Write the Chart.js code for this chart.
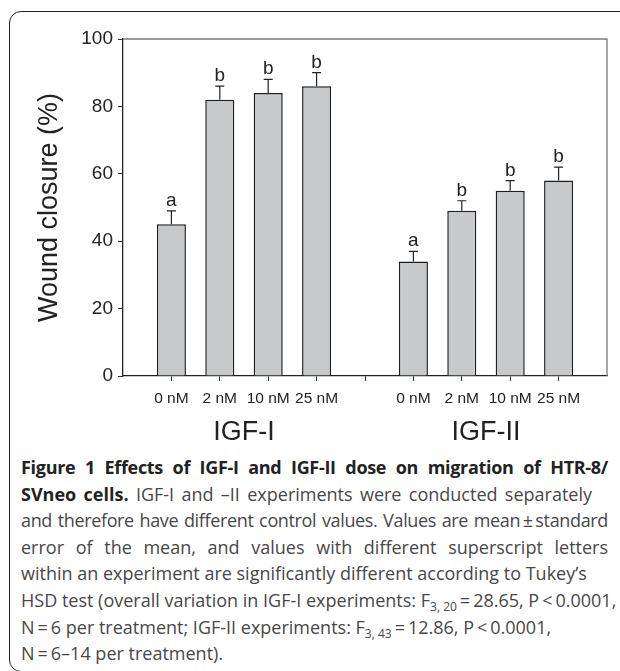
<!DOCTYPE html>
<html>
<head>
<meta charset="utf-8">
<script src="https://cdn.jsdelivr.net/npm/chart.js@4.4.1/dist/chart.umd.min.js"></script>
<style>
  html, body { margin: 0; padding: 0; background: #fff; }
  body { width: 620px; height: 671px; position: relative; overflow: hidden; }
  .frame {
    position: absolute; left: 9px; top: 11px; width: 700px; height: 661px;
    border: 1.5px solid #222; border-radius: 12px; box-sizing: border-box;
  }
  .chart-box { position: absolute; left: 0; top: 0; width: 620px; height: 450px; }
  .caption {
    position: absolute; left: 21px; top: 454px; width: 587px;
    font-family: "Open Sans", sans-serif; font-size: 18px; line-height: 26.6px;
    color: #474747;
  }
  .caption div { white-space: nowrap; text-align: justify; text-align-last: justify; }
  .caption .last { text-align: left; text-align-last: left; }
  .caption b { color: #222; font-weight: 700; }
  .caption .tight { letter-spacing: -0.3px; }
  .caption .squeeze { letter-spacing: -0.35px; }
  .caption sub { font-size: 12px; line-height: 0; vertical-align: -4px; }
</style>
</head>
<body>
<div class="frame"></div>
<div class="chart-box"><canvas id="woundChart"></canvas></div>
<div class="caption">
  <div class="tight"><b>Figure 1 Effects of IGF-I and IGF-II dose on migration of HTR-8/</b></div>
  <div style="width:571px"><b>SVneo cells.</b> IGF-I and –II experiments were conducted separately</div>
  <div class="squeeze">and therefore have different control values. Values are mean&#8201;±&#8201;standard</div>
  <div>error of the mean, and values with different superscript letters</div>
  <div style="width:554px">within an experiment are significantly different according to Tukey’s</div>
  <div>HSD test (overall variation in IGF-I experiments: F<sub>3, 20</sub>&#8201;=&#8201;28.65, P&#8201;&lt;&#8201;0.0001,</div>
  <div class="last">N&#8201;=&#8201;6 per treatment; IGF-II experiments: F<sub>3, 43</sub>&#8201;=&#8201;12.86, P&#8201;&lt;&#8201;0.0001,</div>
  <div class="last">N&#8201;=&#8201;6–14 per treatment).</div>
</div>
<script>
const doses = ["", "0 nM", "2 nM", "10 nM", "25 nM", "", "0 nM", "2 nM", "10 nM", "25 nM", ""];
const closure = [null, 45, 82, 84, 86, null, 34, 49, 55, 58, null];
const stdErr = [null, 4, 4, 4, 4, null, 3, 3, 3, 4, null];
const letters = ["", "a", "b", "b", "b", "", "a", "b", "b", "b", ""];
const groups = ["IGF-I", "IGF-II"];
const yTicks = [0, 20, 40, 60, 80, 100];

const FONT = "'Liberation Sans', Arial, sans-serif";
const INK = "#222";

// error bars, significance letters and the grey top/right frame
const extras = {
  id: "extras",
  afterDatasetsDraw(chart) {
    const { ctx, chartArea, scales } = chart;
    const meta = chart.getDatasetMeta(0);
    ctx.save();
    ctx.strokeStyle = "#7a7a7a";
    ctx.lineWidth = 1.3;
    ctx.beginPath();
    ctx.moveTo(chartArea.left, chartArea.top);
    ctx.lineTo(chartArea.right, chartArea.top);
    ctx.lineTo(chartArea.right, chartArea.bottom);
    ctx.stroke();

    ctx.strokeStyle = INK;
    ctx.lineWidth = 1.2;
    ctx.fillStyle = INK;
    ctx.font = "19px " + FONT;
    ctx.textAlign = "center";
    ctx.textBaseline = "alphabetic";
    meta.data.forEach((bar, i) => {
      if (closure[i] == null) return;
      const yTop = scales.y.getPixelForValue(closure[i]);
      const yCap = scales.y.getPixelForValue(closure[i] + stdErr[i]);
      ctx.beginPath();
      ctx.moveTo(bar.x, yTop);
      ctx.lineTo(bar.x, yCap);
      ctx.moveTo(bar.x - 4.5, yCap);
      ctx.lineTo(bar.x + 4.5, yCap);
      ctx.stroke();
      ctx.fillText(letters[i], bar.x, yCap - 5);
    });
    ctx.restore();
  }
};

const ctx = document.getElementById("woundChart").getContext("2d");

new Chart(ctx, {
  type: "bar",
  data: {
    labels: doses,
    datasets: [{
      data: closure,
      backgroundColor: "#c8c9cb",
      borderColor: "#1e1e1e",
      borderWidth: 1.5,
      barPercentage: 0.6,
      categoryPercentage: 1
    }]
  },
  options: {
    responsive: true,
    maintainAspectRatio: false,
    animation: false,
    layout: { padding: { left: 0, right: 13, top: 39, bottom: 0 } },
    plugins: {
      legend: { display: false },
      tooltip: { enabled: false }
    },
    scales: {
      x: {
        offset: false,
        grid: {
          offset: false,
          drawOnChartArea: false,
          tickLength: 5,
          tickColor: (c) => (c.index === 0 || c.index === doses.length - 1) ? "rgba(0,0,0,0)" : "#333"
        },
        border: { color: INK, width: 1.3 },
        ticks: {
          color: INK,
          padding: 8,
          autoSkip: false,
          maxRotation: 0,
          font: { family: FONT, size: 15.5 }
        },
        afterFit(scale) { scale.height = 36; }
      },
      x2: {
        type: "category",
        position: "bottom",
        labels: groups,
        offset: true,
        grid: { display: false, drawTicks: false },
        border: { display: false },
        ticks: {
          color: INK,
          padding: 4,
          font: { family: FONT, size: 27 }
        },
        afterFit(scale) { scale.height = 38; }
      },
      y: {
        min: 0,
        max: 100,
        afterBuildTicks(scale) { scale.ticks = yTicks.map(v => ({ value: v })); },
        grid: { drawOnChartArea: false, tickLength: 5, color: "#333" },
        border: { color: INK, width: 1.3 },
        ticks: {
          color: INK,
          padding: 5,
          font: { family: FONT, size: 19 }
        },
        title: {
          display: true,
          text: "Wound closure (%)",
          color: INK,
          padding: { top: 33, bottom: 0 },
          font: { family: FONT, size: 27 }
        },
        afterFit(scale) { scale.width = 123; }
      }
    }
  },
  plugins: [extras]
});
</script>
</body>
</html>
